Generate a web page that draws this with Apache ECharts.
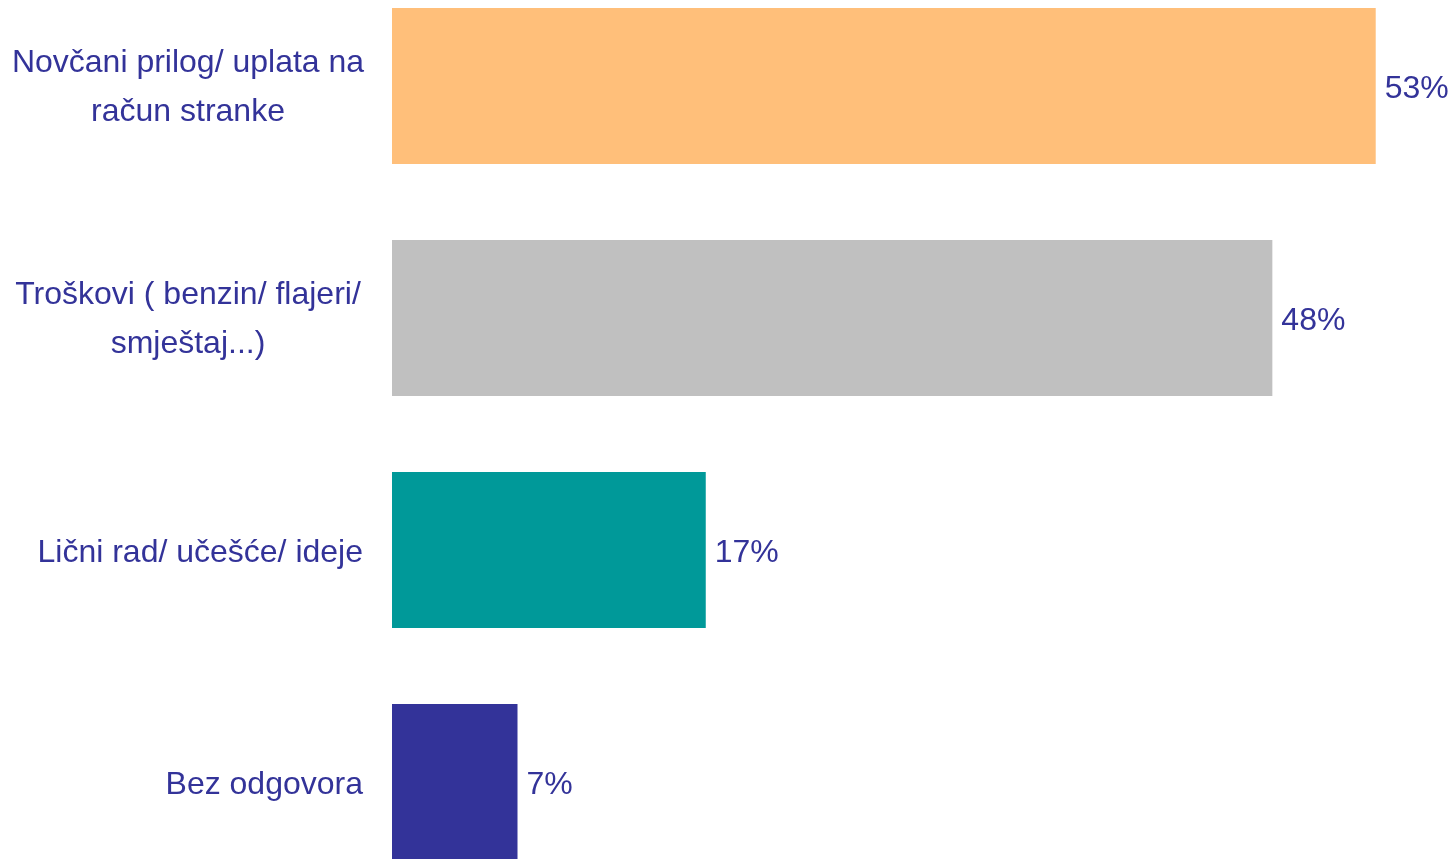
<!DOCTYPE html>
<html>
<head>
<meta charset="utf-8">
<script src="https://cdn.jsdelivr.net/npm/echarts@6/dist/echarts.min.js"></script>
<style>
    html, body { margin: 0; padding: 0; background: #ffffff; }
    #chart { width: 1456px; height: 859px; }
</style>
</head>
<body>
<div id="chart"></div>
<script>
// kategorije odozgo prema dolje
const categories = [
    'Novčani prilog/ uplata na\nračun stranke',
    'Troškovi ( benzin/ flajeri/\nsmještaj...)',
    'Lični rad/ učešće/ ideje',
    'Bez odgovora'
];
// procenti
const values = [53.3, 47.7, 17.0, 6.8];
const barColors = ['#FFBF7A', '#C0C0C0', '#009999', '#333399'];

const textColor = '#333399';
const font = '"Liberation Sans Narrow", "Arial Narrow", "Liberation Sans", Arial, sans-serif';

let myChart = echarts.init(document.getElementById('chart'));
myChart.setOption({
    animation: false,
    grid: {
        left: 392,
        right: 12,
        top: 86,
        bottom: 77
    },
    xAxis: {
        type: 'value',
        min: 0,
        max: 57,
        show: false
    },
    yAxis: {
        type: 'category',
        inverse: true,
        boundaryGap: false,
        data: categories,
        axisLine: { show: false },
        axisTick: { show: false },
        splitLine: { show: false },
        axisLabel: {
            margin: 29,
            color: textColor,
            fontFamily: font,
            fontSize: 32,
            lineHeight: 49,
            align: 'right',
            // dvoredne oznake centrirane unutar bloka
            formatter: function (val) {
                if (val.indexOf('\n') < 0) {
                    return '{s|' + val + '}';
                }
                return val.split('\n').map(l => '{m|' + l + '}').join('\n');
            },
            rich: {
                s: { fontSize: 32, lineHeight: 49, color: textColor, fontFamily: font, padding: [6, 0, 0, 0] },
                m: { fontSize: 32, lineHeight: 49, color: textColor, fontFamily: font, width: 350, align: 'center', padding: [4, 0, 0, 0] }
            }
        }
    },
    series: [{
        type: 'bar',
        barWidth: 156,
        data: values.map((v, i) => ({ value: v, itemStyle: { color: barColors[i] } })),
        label: {
            show: true,
            position: 'right',
            distance: 9,
            offset: [0, 3],
            color: textColor,
            fontFamily: font,
            fontSize: 32,
            formatter: p => Math.round(p.value) + '%'
        }
    }]
});
</script>
</body>
</html>
